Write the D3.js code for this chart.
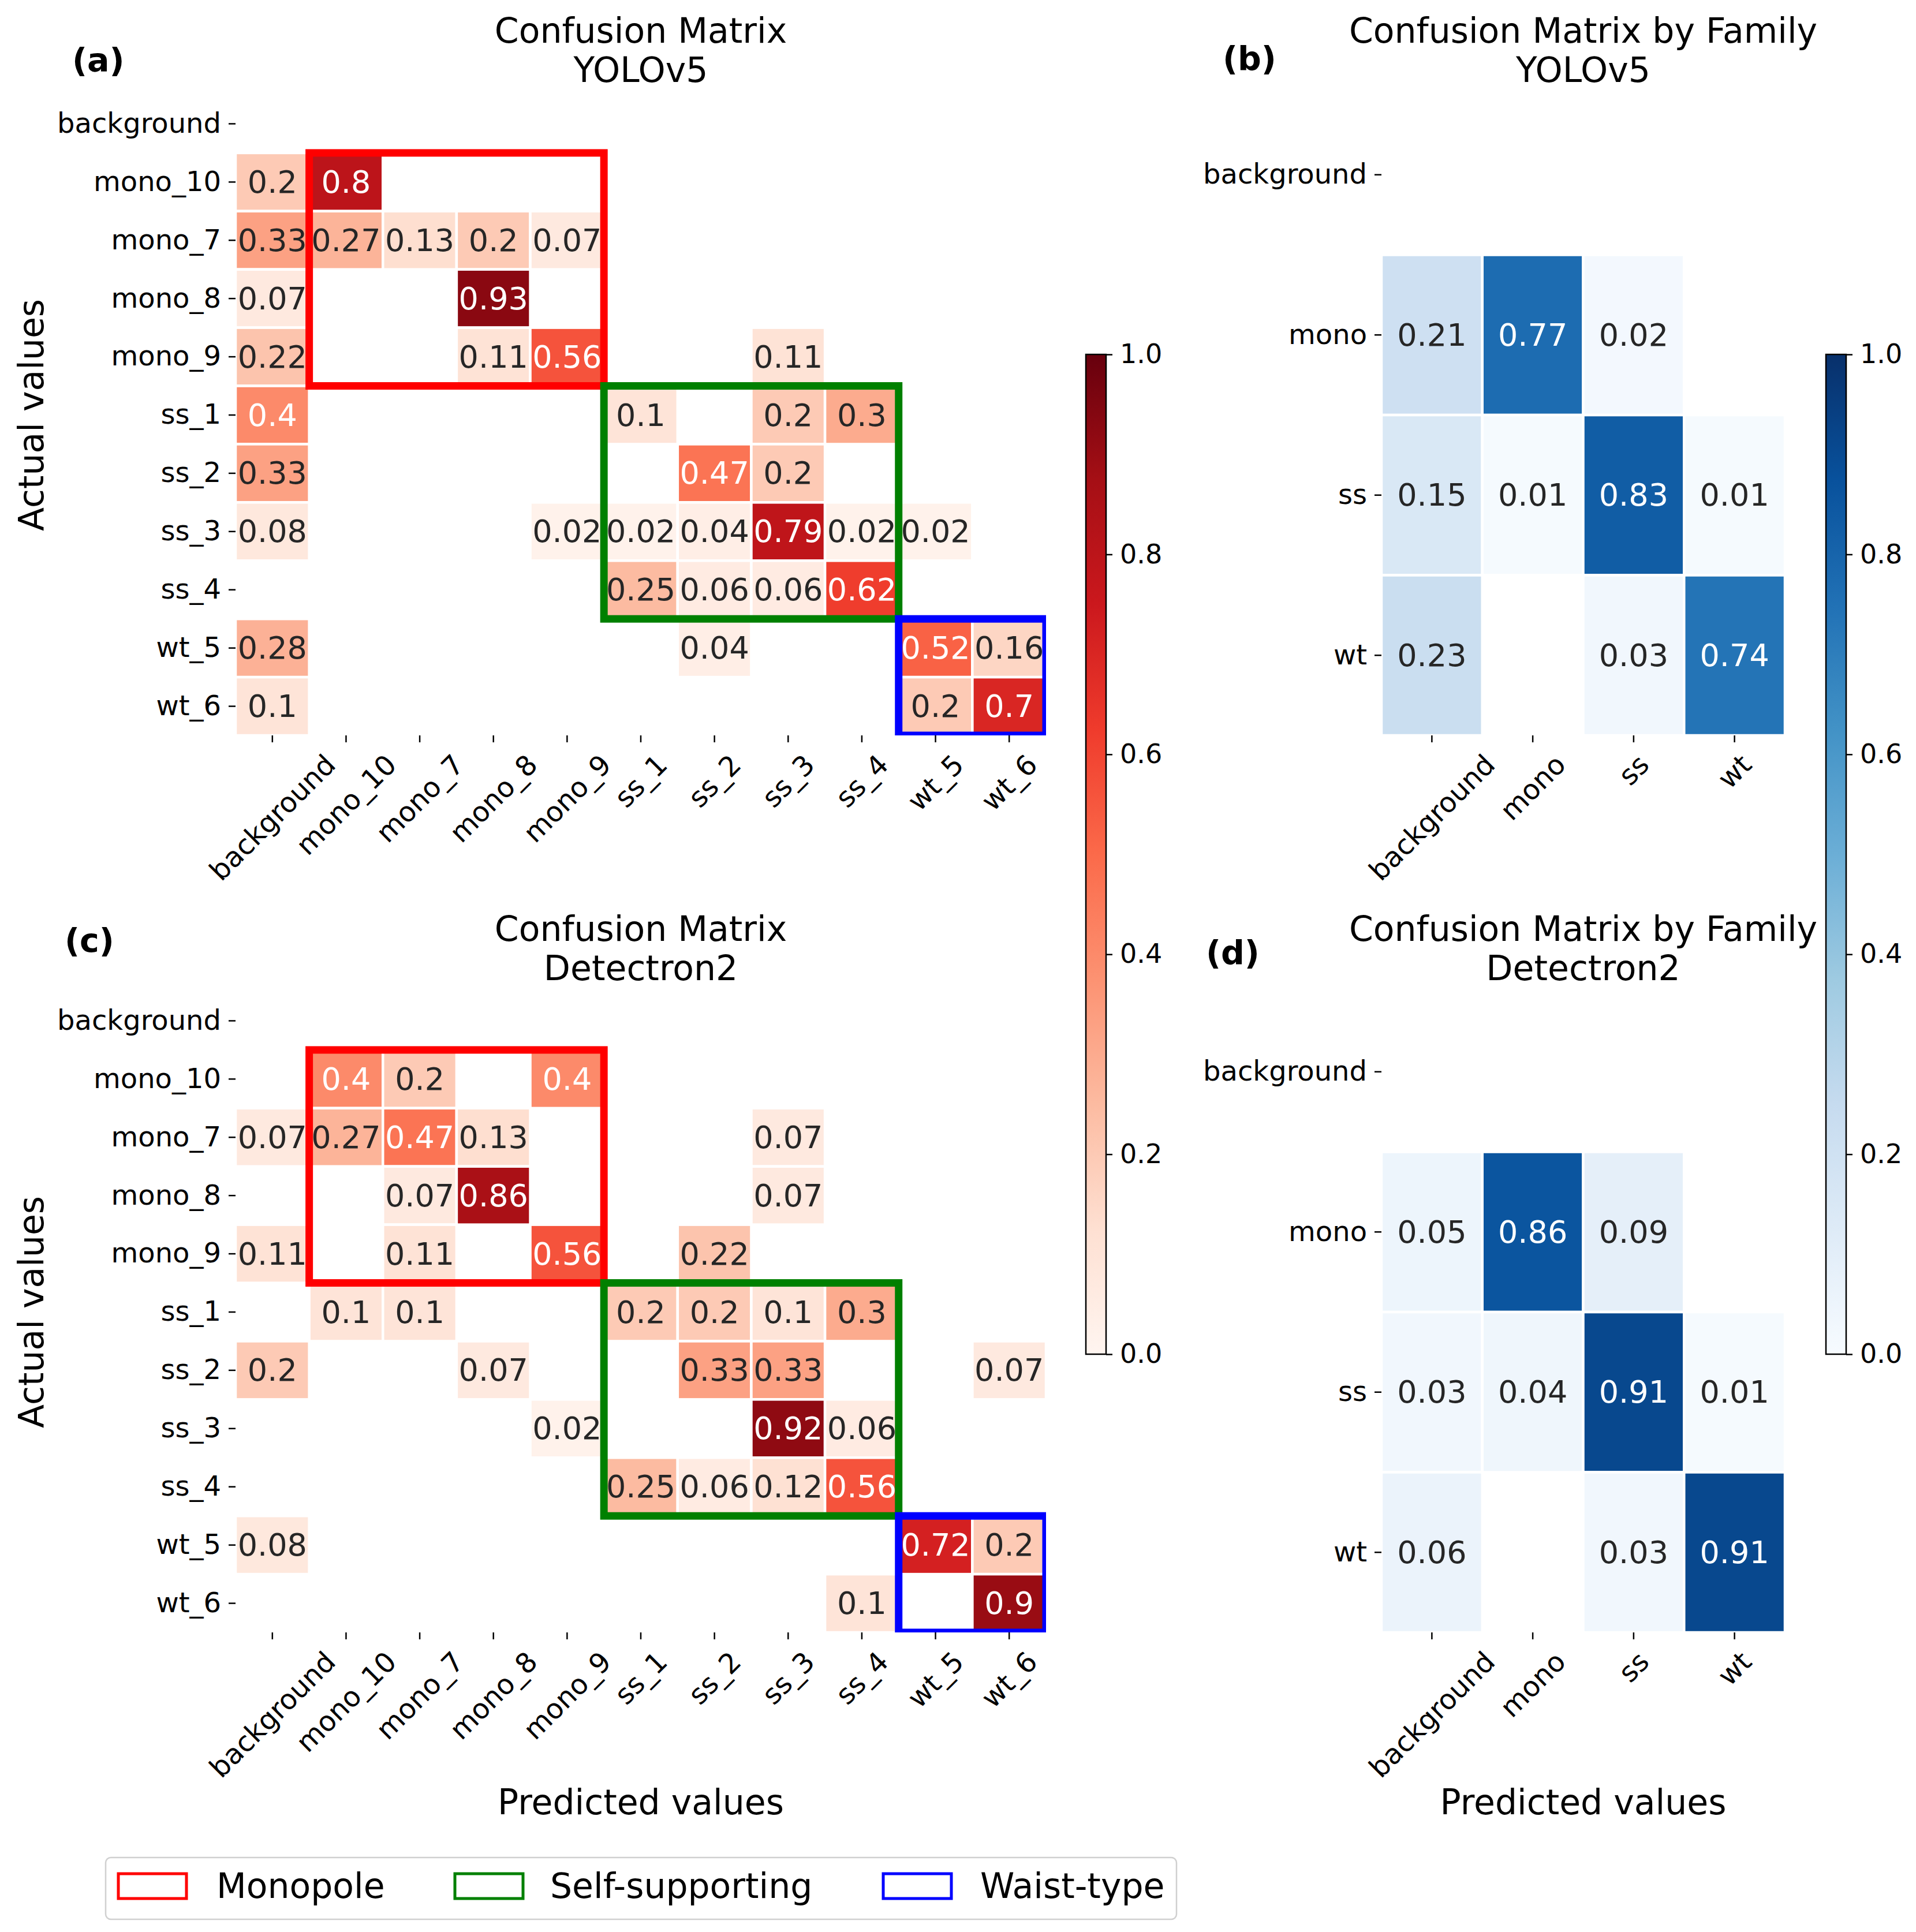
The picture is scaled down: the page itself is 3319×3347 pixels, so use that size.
<!DOCTYPE html>
<html>
<head>
<meta charset="utf-8">
<script src="https://cdn.jsdelivr.net/npm/d3@7"></script>
<style>
  body { margin: 0; background: #fff; }
  text { font-family: "DejaVu Sans", sans-serif; }
</style>
</head>
<body>
<svg id="fig"></svg>
<script>
const fineLabels = ["background", "mono_10", "mono_7", "mono_8", "mono_9", "ss_1", "ss_2", "ss_3", "ss_4", "wt_5", "wt_6"];
const familyLabels = ["background", "mono", "ss", "wt"];

// rows = actual, columns = predicted, 0 = empty cell
const yoloFine = [
  [0, 0, 0, 0, 0, 0, 0, 0, 0, 0, 0],
  [0.2, 0.8, 0, 0, 0, 0, 0, 0, 0, 0, 0],
  [0.33, 0.27, 0.13, 0.2, 0.07, 0, 0, 0, 0, 0, 0],
  [0.07, 0, 0, 0.93, 0, 0, 0, 0, 0, 0, 0],
  [0.22, 0, 0, 0.11, 0.56, 0, 0, 0.11, 0, 0, 0],
  [0.4, 0, 0, 0, 0, 0.1, 0, 0.2, 0.3, 0, 0],
  [0.33, 0, 0, 0, 0, 0, 0.47, 0.2, 0, 0, 0],
  [0.08, 0, 0, 0, 0.02, 0.02, 0.04, 0.79, 0.02, 0.02, 0],
  [0, 0, 0, 0, 0, 0.25, 0.06, 0.06, 0.62, 0, 0],
  [0.28, 0, 0, 0, 0, 0, 0.04, 0, 0, 0.52, 0.16],
  [0.1, 0, 0, 0, 0, 0, 0, 0, 0, 0.2, 0.7],
];
const detectronFine = [
  [0, 0, 0, 0, 0, 0, 0, 0, 0, 0, 0],
  [0, 0.4, 0.2, 0, 0.4, 0, 0, 0, 0, 0, 0],
  [0.07, 0.27, 0.47, 0.13, 0, 0, 0, 0.07, 0, 0, 0],
  [0, 0, 0.07, 0.86, 0, 0, 0, 0.07, 0, 0, 0],
  [0.11, 0, 0.11, 0, 0.56, 0, 0.22, 0, 0, 0, 0],
  [0, 0.1, 0.1, 0, 0, 0.2, 0.2, 0.1, 0.3, 0, 0],
  [0.2, 0, 0, 0.07, 0, 0, 0.33, 0.33, 0, 0, 0.07],
  [0, 0, 0, 0, 0.02, 0, 0, 0.92, 0.06, 0, 0],
  [0, 0, 0, 0, 0, 0.25, 0.06, 0.12, 0.56, 0, 0],
  [0.08, 0, 0, 0, 0, 0, 0, 0, 0, 0.72, 0.2],
  [0, 0, 0, 0, 0, 0, 0, 0, 0.1, 0, 0.9],
];
const yoloFamily = [
  [0, 0, 0, 0],
  [0.21, 0.77, 0.02, 0],
  [0.15, 0.01, 0.83, 0.01],
  [0.23, 0, 0.03, 0.74],
];
const detectronFamily = [
  [0, 0, 0, 0],
  [0.05, 0.86, 0.09, 0],
  [0.03, 0.04, 0.91, 0.01],
  [0.06, 0, 0.03, 0.91],
];

const groupNames = ["Monopole", "Self-supporting", "Waist-type"];
const groupRanges = [["mono_10", "mono_9"], ["ss_1", "ss_4"], ["wt_5", "wt_6"]];
const colorbarTicks = [0, 0.2, 0.4, 0.6, 0.8, 1.0];

// matplotlib Reds / Blues (piecewise linear through the brewer colours)
const redsStops = ["#fff5f0", "#fee0d2", "#fcbba1", "#fc9272", "#fb6a4a", "#ef3b2c", "#cb181d", "#a50f15", "#67000d"];
const bluesStops = ["#f7fbff", "#deebf7", "#c6dbef", "#9ecae1", "#6baed6", "#4292c6", "#2171b5", "#08519c", "#08306b"];
const groupColors = ["#ff0000", "#008000", "#0000ff"];

const W = 3319, H = 3347;
const svg = d3.select("#fig").attr("width", W).attr("height", H);
const defs = svg.append("defs");

function makeCmap(stops) {
  return d3.scaleLinear()
    .domain(stops.map((s, i) => i / (stops.length - 1)))
    .range(stops)
    .interpolate(d3.interpolateRgb)
    .clamp(true);
}
const reds = makeCmap(redsStops);
const blues = makeCmap(bluesStops);

// seaborn picks the annotation colour from the cell luminance
function textColor(fill) {
  const c = d3.rgb(fill);
  const lin = (v) => {
    v /= 255;
    return v <= 0.03928 ? v / 12.92 : Math.pow((v + 0.055) / 1.055, 2.4);
  };
  const lum = 0.2126 * lin(c.r) + 0.7152 * lin(c.g) + 0.0722 * lin(c.b);
  return lum > 0.408 ? "#262626" : "#ffffff";
}

const tickFont = 48;
const tickLen = 12;
const tickPad = 13;
const labelFont = 60;

function drawHeatmap(cfg) {
  const x = d3.scaleBand().domain(cfg.labels).range([cfg.x0, cfg.x1]);
  const y = d3.scaleBand().domain(cfg.labels).range([cfg.y0, cfg.y1]);
  const g = svg.append("g");

  const cells = [];
  cfg.matrix.forEach((row, i) => row.forEach((v, j) => {
    if (v > 0) cells.push({ row: cfg.labels[i], col: cfg.labels[j], v: v });
  }));

  g.selectAll(".cell")
    .data(cells)
    .join("rect")
    .attr("class", "cell")
    .attr("x", (d) => x(d.col))
    .attr("y", (d) => y(d.row))
    .attr("width", x.bandwidth())
    .attr("height", y.bandwidth())
    .attr("fill", (d) => cfg.cmap(d.v))
    .attr("stroke", "#fff")
    .attr("stroke-width", 4.5);

  g.selectAll(".annot")
    .data(cells)
    .join("text")
    .attr("class", "annot")
    .attr("x", (d) => x(d.col) + x.bandwidth() / 2)
    .attr("y", (d) => y(d.row) + y.bandwidth() / 2)
    .attr("text-anchor", "middle")
    .attr("dominant-baseline", "central")
    .attr("font-size", 54)
    .attr("fill", (d) => textColor(cfg.cmap(d.v)))
    .text((d) => String(d.v));

  // family boxes, clipped to the axes like matplotlib patches
  if (cfg.boxes) {
    const clipId = "clip" + cfg.id;
    defs.append("clipPath").attr("id", clipId)
      .append("rect")
      .attr("x", cfg.x0).attr("y", cfg.y0)
      .attr("width", cfg.x1 - cfg.x0).attr("height", cfg.y1 - cfg.y0);
    g.append("g").attr("clip-path", `url(#${clipId})`)
      .selectAll("rect")
      .data(groupRanges)
      .join("rect")
      .attr("x", (d) => x(d[0]))
      .attr("y", (d) => y(d[0]))
      .attr("width", (d) => x(d[1]) + x.bandwidth() - x(d[0]))
      .attr("height", (d) => y(d[1]) + y.bandwidth() - y(d[0]))
      .attr("fill", "none")
      .attr("stroke", (d, i) => groupColors[i])
      .attr("stroke-width", 13);
  }

  const yAxisG = g.append("g")
    .attr("transform", `translate(${cfg.x0},0)`)
    .call(d3.axisLeft(y).tickSize(tickLen).tickPadding(tickPad));
  const xAxisG = g.append("g")
    .attr("transform", `translate(0,${cfg.y1})`)
    .call(d3.axisBottom(x).tickSize(tickLen).tickPadding(tickPad));

  [yAxisG, xAxisG].forEach((a) => {
    a.select(".domain").remove();
    a.attr("font-family", null).attr("font-size", null);
    a.selectAll(".tick line").attr("stroke", "#000").attr("stroke-width", 2.5);
    a.selectAll(".tick text").attr("font-size", tickFont).attr("fill", "#000");
  });

  // rotated x labels: bounding box centred under the tick
  xAxisG.selectAll(".tick text").each(function () {
    const len = this.getComputedTextLength();
    const half = ((len + tickFont) * Math.SQRT1_2) / 2;
    d3.select(this)
      .attr("y", 0)
      .attr("dy", "0.35em")
      .attr("text-anchor", "middle")
      .attr("transform", `translate(0,${tickLen + tickPad + half}) rotate(-45)`);
  });

  const cx = (cfg.x0 + cfg.x1) / 2;
  svg.append("text")
    .attr("x", cx)
    .attr("y", cfg.titleY)
    .attr("text-anchor", "middle")
    .attr("font-size", labelFont)
    .selectAll("tspan")
    .data(cfg.title)
    .join("tspan")
    .attr("x", cx)
    .attr("dy", (d, i) => (i === 0 ? 0 : 68))
    .text((d) => d);

  svg.append("text")
    .attr("x", cfg.tagX)
    .attr("y", cfg.tagY)
    .attr("font-size", 57)
    .attr("font-weight", "bold")
    .text(cfg.tag);

  if (cfg.xlabel) {
    svg.append("text")
      .attr("x", cx)
      .attr("y", 3143)
      .attr("text-anchor", "middle")
      .attr("font-size", labelFont)
      .text("Predicted values");
  }
  if (cfg.ylabel) {
    svg.append("text")
      .attr("transform", `translate(75,${(cfg.y0 + cfg.y1) / 2}) rotate(-90)`)
      .attr("text-anchor", "middle")
      .attr("font-size", labelFont)
      .text("Actual values");
  }
}

function drawColorbar(id, stops, x0) {
  const yc = d3.scaleLinear().domain([0, 1]).range([2346, 614]);
  const grad = defs.append("linearGradient").attr("id", id)
    .attr("x1", 0).attr("y1", 1).attr("x2", 0).attr("y2", 0);
  grad.selectAll("stop")
    .data(stops)
    .join("stop")
    .attr("offset", (d, i) => i / (stops.length - 1))
    .attr("stop-color", (d) => d);

  const g = svg.append("g");
  g.append("rect")
    .attr("x", x0).attr("y", yc(1))
    .attr("width", 35).attr("height", yc(0) - yc(1))
    .attr("fill", `url(#${id})`)
    .attr("stroke", "#000")
    .attr("stroke-width", 2.5);

  const ax = g.append("g")
    .attr("transform", `translate(${x0 + 35},0)`)
    .call(d3.axisRight(yc).tickValues(colorbarTicks).tickFormat(d3.format(".1f"))
      .tickSize(11).tickPadding(13));
  ax.select(".domain").remove();
  ax.attr("font-family", null).attr("font-size", null);
  ax.selectAll(".tick line").attr("stroke", "#000").attr("stroke-width", 2.5);
  ax.selectAll(".tick text").attr("font-size", 46).attr("fill", "#000");
}

drawHeatmap({
  id: "a", labels: fineLabels, matrix: yoloFine, cmap: reds, boxes: true,
  x0: 408, x1: 1812, y0: 164, y1: 1274,
  title: ["Confusion Matrix", "YOLOv5"], titleY: 74,
  tag: "(a)", tagX: 125, tagY: 124, ylabel: true,
});
drawHeatmap({
  id: "c", labels: fineLabels, matrix: detectronFine, cmap: reds, boxes: true,
  x0: 408, x1: 1812, y0: 1718, y1: 2828,
  title: ["Confusion Matrix", "Detectron2"], titleY: 1630,
  tag: "(c)", tagX: 112, tagY: 1649, ylabel: true, xlabel: true,
});
drawHeatmap({
  id: "b", labels: familyLabels, matrix: yoloFamily, cmap: blues,
  x0: 2393, x1: 3092, y0: 164, y1: 1274,
  title: ["Confusion Matrix by Family", "YOLOv5"], titleY: 74,
  tag: "(b)", tagX: 2118, tagY: 121,
});
drawHeatmap({
  id: "d", labels: familyLabels, matrix: detectronFamily, cmap: blues,
  x0: 2393, x1: 3092, y0: 1718, y1: 2828,
  title: ["Confusion Matrix by Family", "Detectron2"], titleY: 1630,
  tag: "(d)", tagX: 2089, tagY: 1670, xlabel: true,
});

drawColorbar("gradReds", redsStops, 1881);
drawColorbar("gradBlues", bluesStops, 3163);

// legend
const legend = svg.append("g");
legend.append("rect")
  .attr("x", 183).attr("y", 3218)
  .attr("width", 1855).attr("height", 107)
  .attr("rx", 9)
  .attr("fill", "#fff")
  .attr("stroke", "#d0d0d0")
  .attr("stroke-width", 2.5);
const handleX = [205, 788, 1530];
const labelX = [375, 953, 1698];
legend.selectAll(".handle")
  .data(groupNames)
  .join("rect")
  .attr("class", "handle")
  .attr("x", (d, i) => handleX[i])
  .attr("y", 3246)
  .attr("width", 118)
  .attr("height", 43)
  .attr("fill", "none")
  .attr("stroke", (d, i) => groupColors[i])
  .attr("stroke-width", 5);
legend.selectAll(".label")
  .data(groupNames)
  .join("text")
  .attr("class", "label")
  .attr("x", (d, i) => labelX[i])
  .attr("y", 3288)
  .attr("font-size", labelFont)
  .text((d) => d);
</script>
</body>
</html>
